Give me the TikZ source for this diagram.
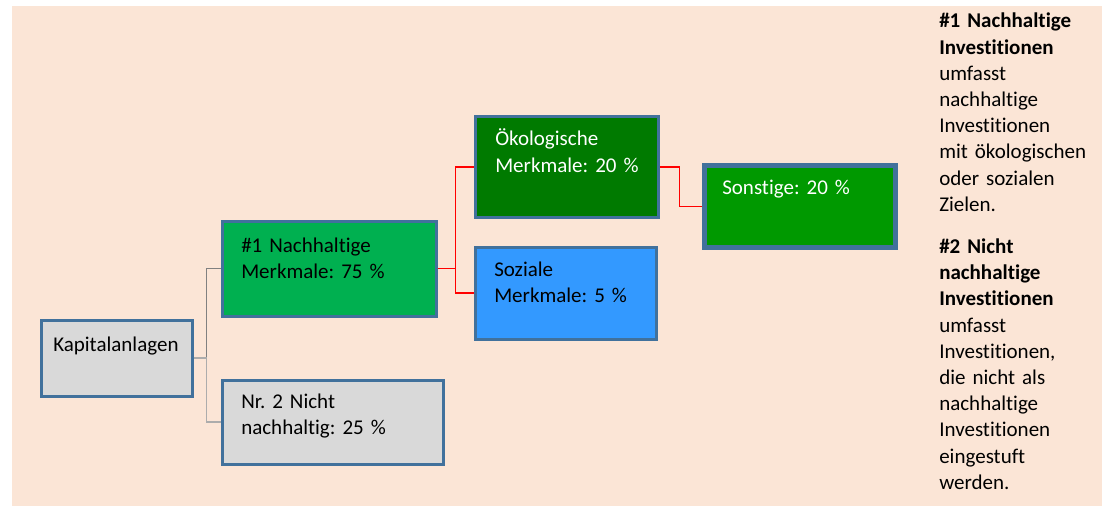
\documentclass[tikz,border=0pt]{standalone}
\usepackage{xcolor}
\usepackage{fontspec}
\setmainfont[Ligatures=NoCommon]{Carlito}
\usepackage{tikz}
\frenchspacing

\definecolor{hinter}{HTML}{FBE5D6}
\definecolor{rahmen}{HTML}{41719C}
\definecolor{grau}{HTML}{D9D9D9}
\definecolor{hellgruen}{HTML}{00B050}
\definecolor{dunkelgruen}{HTML}{007A00}
\definecolor{gruen}{HTML}{009900}
\definecolor{blau}{HTML}{3399FF}

\begin{document}
\begin{tikzpicture}[x=0.75pt, y=-0.75pt,
        font=\fontsize{15.75}{19.65}\selectfont,
        kasten/.style={draw=rahmen, line width=2.25pt, rectangle, anchor=north west, inner sep=0pt},
        schrift/.style={anchor=base west, align=left, text width=#1, inner sep=0pt},
        schrift/.default=140pt,
        ast/.style={line width=1.2pt}]
        \useasboundingbox (0,0) rectangle (1106,506);
        \fill[hinter] (12,6) rectangle (1102,506);

        \node[kasten, fill=grau, minimum width=151*.75pt, minimum height=76*.75pt] (kap) at (39.5,318.5) {};
        \node[kasten, fill=hellgruen, minimum width=214*.75pt, minimum height=95*.75pt] (nach) at (220.5,219.5) {};
        \node[kasten, fill=grau, minimum width=221*.75pt, minimum height=84*.75pt] (nicht) at (220.5,378.5) {};
        \node[kasten, fill=dunkelgruen, minimum width=183*.75pt, minimum height=100*.75pt] (oeko) at (473.5,115.5) {};
        \node[kasten, fill=blau, minimum width=181*.75pt, minimum height=92*.75pt] (sozial) at (473.5,245.5) {};
        \node[kasten, fill=gruen, line width=3.75pt, minimum width=191*.75pt, minimum height=81*.75pt] (sonst) at (701.5,163.5) {};

        \node[schrift] (kap-t) at (53,351) {Kapitalanlagen};
        \node[schrift] (nach-t) at (241,252) {\#1 Nachhaltige\\Merkmale: 75 \%};
        \node[schrift] (nicht-t) at (241,408) {Nr. 2 Nicht\\nachhaltig: 25 \%};
        \node[schrift, text=white] (oeko-t) at (495,146) {Ökologische\\Merkmale: 20 \%};
        \node[schrift] (sozial-t) at (494,276) {Soziale\\Merkmale: 5 \%};
        \node[schrift, text=white] (sonst-t) at (722,195) {Sonstige: 20 \%};

        \draw[ast, gray] (kap.east) -- ++(13,0) |- (nach.west);
        \draw[ast, gray!65] (kap.east) -- ++(13,0) |- (nicht.west);
        \draw[ast, red] (nach.east) -- ++(18,0) |- (oeko.west);
        \draw[ast, red] (nach.east) -- ++(18,0) |- (sozial.west);
        \draw[ast, red] (oeko.east) -- ++(20,0) |- (sonst.west);

        \node[schrift=125pt] (legende) at (939,28) {\textbf{\#1 Nachhaltige}\\\textbf{Investitionen}\\umfasst\\nachhaltige\\Investitionen\\mit ökologischen\\oder sozialen\\Zielen.\\[12pt]
        \textbf{\#2 Nicht}\\\textbf{nachhaltige}\\\textbf{Investitionen}\\umfasst\\Investitionen,\\die nicht als\\nachhaltige\\Investitionen\\eingestuft\\werden.};
    \end{tikzpicture}
\end{document}
